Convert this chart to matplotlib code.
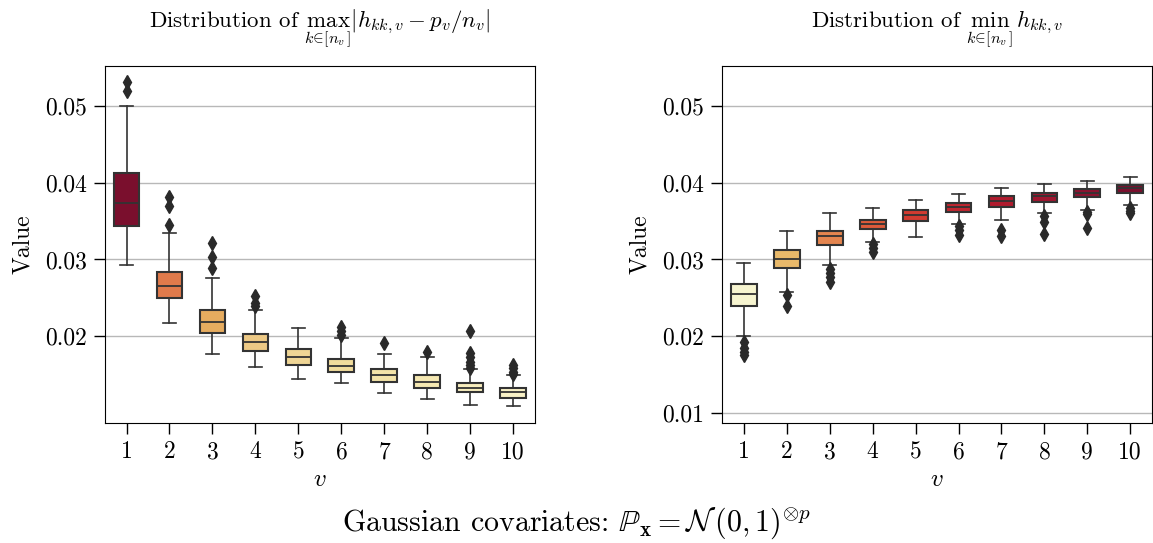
import matplotlib
matplotlib.use("Agg")
import matplotlib.pyplot as plt

plt.rcParams['font.family'] = 'serif'
plt.rcParams['font.serif'] = ['cmr10', 'DejaVu Serif']
plt.rcParams['mathtext.fontset'] = 'cm'
plt.rcParams['axes.formatter.use_mathtext'] = True

v_labels = ['1', '2', '3', '4', '5', '6', '7', '8', '9', '10']

# left panel: max_k |h_kk,v - p_v/n_v|
max_whislo = [0.0293, 0.0217, 0.0177, 0.0160, 0.0144, 0.0139, 0.0126, 0.0118, 0.0110, 0.0109]
max_q1 = [0.0344, 0.0250, 0.0204, 0.0181, 0.0163, 0.0153, 0.0141, 0.0133, 0.0127, 0.0120]
max_med = [0.0374, 0.0265, 0.0218, 0.0193, 0.0173, 0.0161, 0.0149, 0.0141, 0.0133, 0.0127]
max_q3 = [0.0412, 0.0284, 0.0234, 0.0203, 0.0183, 0.0171, 0.0157, 0.0150, 0.0139, 0.0133]
max_whishi = [0.0500, 0.0334, 0.0276, 0.0234, 0.0211, 0.0198, 0.0177, 0.0173, 0.0157, 0.0150]
max_fliers = [
    [0.0531, 0.0519],
    [0.0381, 0.0370, 0.0345],
    [0.0321, 0.0303, 0.0289],
    [0.0252, 0.0243, 0.0240],
    [],
    [0.0212, 0.0207, 0.0201],
    [0.0191],
    [0.0180],
    [0.0207, 0.0178, 0.0173, 0.0167, 0.0162, 0.0159],
    [0.0163, 0.0159, 0.0154, 0.0151],
]

# right panel: min_k h_kk,v
min_whislo = [0.0200, 0.0257, 0.0293, 0.0323, 0.0329, 0.0346, 0.0351, 0.0360, 0.0365, 0.0371]
min_q1 = [0.0239, 0.0289, 0.0319, 0.0340, 0.0350, 0.0362, 0.0368, 0.0375, 0.0381, 0.0387]
min_med = [0.0255, 0.0300, 0.0330, 0.0346, 0.0358, 0.0368, 0.0376, 0.0382, 0.0387, 0.0393]
min_q3 = [0.0268, 0.0312, 0.0337, 0.0351, 0.0365, 0.0374, 0.0382, 0.0387, 0.0392, 0.0397]
min_whishi = [0.0296, 0.0337, 0.0360, 0.0367, 0.0377, 0.0385, 0.0393, 0.0398, 0.0402, 0.0408]
min_fliers = [
    [0.0193, 0.0185, 0.0179, 0.0176],
    [0.0254, 0.0240],
    [0.0288, 0.0283, 0.0277, 0.0270],
    [0.0320, 0.0315, 0.0310],
    [],
    [0.0343, 0.0338, 0.0332],
    [0.0339, 0.0330],
    [0.0357, 0.0349, 0.0333],
    [0.0362, 0.0359, 0.0341],
    [0.0367, 0.0363, 0.0360],
]

max_colors = ['#7a0f2d', '#e07a4b', '#e6ac5f', '#edc985', '#efd595',
              '#f1dc9c', '#f3e3a8', '#f5e8b2', '#f7edbd', '#f8f1c6']
min_colors = ['#f7f5d0', '#e9b96a', '#e4854f', '#dc5a3a', '#d13b30',
              '#c0262f', '#b01b2e', '#a0162f', '#8c122f', '#7a0f2d']

line_col = '#333333'


def make_stats(lo, q1, med, q3, hi, fl):
    return [dict(whislo=a, q1=b, med=c, q3=d, whishi=e, fliers=f)
            for a, b, c, d, e, f in zip(lo, q1, med, q3, hi, fl)]


def draw_panel(ax, stats, colors, title, yticks):
    bp = ax.bxp(stats, positions=range(len(stats)), widths=0.6, patch_artist=True,
                boxprops=dict(edgecolor=line_col, linewidth=1.5),
                medianprops=dict(color=line_col, linewidth=1.3),
                whiskerprops=dict(color=line_col, linewidth=1.2),
                capprops=dict(color=line_col, linewidth=1.2),
                flierprops=dict(marker='d', markerfacecolor='#2a2a2a',
                                markeredgecolor='#2a2a2a', markersize=7))
    for patch, c in zip(bp['boxes'], colors):
        patch.set_facecolor(c)
    ax.set_xlim(-0.5, len(stats) - 0.5)
    ax.set_ylim(0.0087, 0.0552)
    ax.set_xticks(range(len(stats)))
    ax.set_xticklabels(v_labels)
    ax.set_yticks(yticks)
    ax.set_yticklabels(['%.2f' % t for t in yticks])
    ax.yaxis.grid(True, color='#b8b8b8', linewidth=1)
    ax.set_axisbelow(True)
    ax.tick_params(labelsize=17, length=8, width=1, pad=5)
    ax.set_xlabel('$v$', fontsize=18, labelpad=4)
    ax.set_ylabel('Value', fontsize=17, labelpad=8)
    ax.set_title(title, fontsize=16.5, pad=28)


fig = plt.figure(figsize=(11.53, 5.43), dpi=100)
ax1 = fig.add_axes([0.0911, 0.221, 0.3727, 0.6575])
ax2 = fig.add_axes([0.6265, 0.221, 0.3724, 0.6575])

draw_panel(ax1, make_stats(max_whislo, max_q1, max_med, max_q3, max_whishi, max_fliers),
           max_colors, r'Distribution of $\max_{k\in[n_v]}|h_{kk,v} - p_v/n_v|$',
           [0.02, 0.03, 0.04, 0.05])
draw_panel(ax2, make_stats(min_whislo, min_q1, min_med, min_q3, min_whishi, min_fliers),
           min_colors, r'Distribution of $\min_{k\in[n_v]}\, h_{kk,v}$',
           [0.01, 0.02, 0.03, 0.04, 0.05])

fig.text(0.5, 0.022, r'Gaussian covariates: $\mathbb{P}_{\mathbf{x}} = \mathcal{N}\,(0,1)^{\otimes p}$',
         ha='center', fontsize=21.5)

fig.savefig('out.png', dpi=100)
